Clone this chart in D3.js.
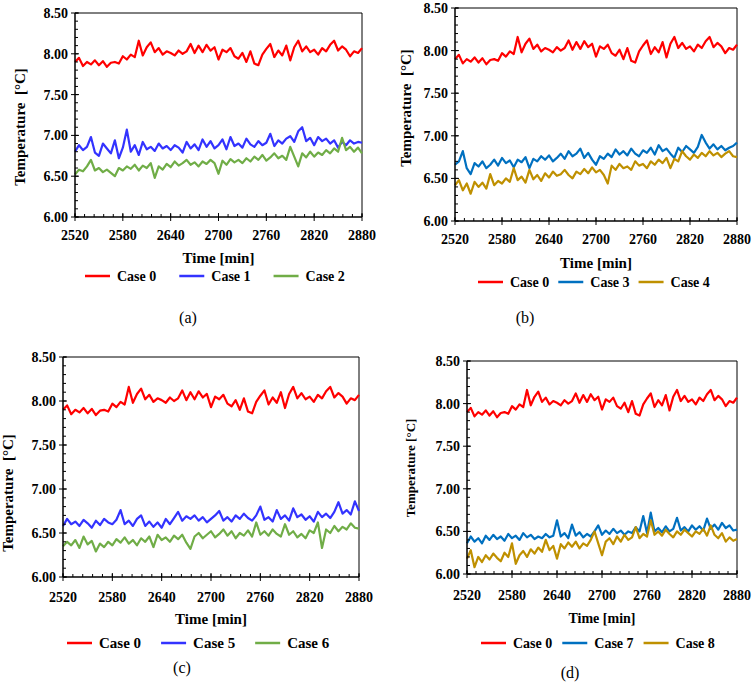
<!DOCTYPE html>
<html>
<head>
<meta charset="utf-8">
<script src="https://cdn.jsdelivr.net/npm/d3@7"></script>
<style>
  body { margin: 0; background: #fff; }
  svg text { font-family: "Liberation Serif", Tinos, "Times New Roman", "DejaVu Serif", serif; }
</style>
</head>
<body>
<svg id="chart" width="756" height="686"></svg>
<script>
// sample times (every 5 min)
const times = d3.range(2520, 2881, 5)

// temperatures, one value per sample time
const case0 = [7.90,7.95,7.85,7.90,7.87,7.92,7.86,7.91,7.84,7.89,7.90,7.88,7.97,7.93,7.99,7.96,8.16,7.98,8.08,8.14,8.02,8.07,7.99,8.03,8.01,7.98,8.04,8.00,8.03,8.12,8.01,8.10,8.02,8.11,8.04,8.08,7.93,8.05,8.02,8.07,7.97,7.94,8.01,7.90,8.03,7.88,7.86,7.99,8.06,8.12,7.96,8.04,7.98,8.10,7.92,8.08,8.16,8.03,8.09,8.02,8.05,7.99,8.07,8.03,8.11,8.16,8.04,8.09,8.05,7.97,8.03,8.01,8.07]
const case1 = [6.80,6.88,6.82,6.86,6.98,6.79,6.75,6.90,6.84,6.78,6.94,6.72,6.85,7.07,6.80,6.88,6.76,6.92,6.83,6.86,6.81,6.90,6.84,6.87,6.82,6.88,6.85,6.79,6.92,6.84,6.89,6.82,6.95,6.86,6.93,6.84,6.88,6.95,6.83,6.98,6.87,6.90,6.85,6.96,6.89,6.86,6.93,6.88,6.91,7.02,6.87,6.94,6.90,6.96,6.99,6.92,7.05,7.10,6.93,6.97,6.88,6.98,6.93,6.96,6.90,6.94,6.85,6.92,6.88,6.94,6.90,6.92,6.91]
const case2 = [6.52,6.58,6.56,6.62,6.70,6.57,6.60,6.55,6.58,6.54,6.50,6.60,6.57,6.62,6.59,6.64,6.57,6.63,6.60,6.66,6.48,6.62,6.58,6.65,6.61,6.68,6.63,6.66,6.70,6.64,6.67,6.62,6.68,6.65,6.70,6.66,6.53,6.69,6.64,6.71,6.67,6.70,6.66,6.72,6.68,6.74,6.70,6.76,6.69,6.73,6.78,6.72,6.75,6.70,6.86,6.74,6.62,6.78,6.73,6.80,6.74,6.79,6.76,6.82,6.78,6.84,6.80,6.97,6.82,6.86,6.80,6.85,6.78]
const case3 = [6.66,6.70,6.82,6.62,6.55,6.68,6.64,6.70,6.62,6.66,6.72,6.65,6.74,6.68,6.71,6.63,6.72,6.69,6.75,6.62,6.73,6.70,6.76,6.72,6.77,6.70,6.74,6.79,6.73,6.82,6.76,6.79,6.85,6.74,6.80,6.72,6.66,6.76,6.73,6.79,6.75,6.84,6.78,6.82,6.77,6.85,6.79,6.76,6.83,6.80,6.86,6.78,6.89,6.82,6.85,6.79,6.74,6.86,6.81,6.88,6.84,6.80,6.87,7.01,6.92,6.85,6.90,6.84,6.88,6.83,6.86,6.88,6.92]
const case4 = [6.42,6.48,6.36,6.44,6.32,6.46,6.40,6.45,6.38,6.55,6.42,6.47,6.44,6.50,6.46,6.62,6.48,6.52,6.45,6.60,6.49,6.54,6.47,6.56,6.51,6.58,6.53,6.55,6.60,6.54,6.50,6.58,6.55,6.61,6.56,6.63,6.57,6.60,6.54,6.44,6.65,6.60,6.67,6.62,6.64,6.60,6.70,6.65,6.67,6.62,6.70,6.66,6.72,6.68,6.74,6.62,6.73,6.70,6.82,6.76,6.72,6.78,6.74,6.80,6.76,6.82,6.77,6.80,6.75,6.79,6.82,6.76,6.75]
const case5 = [6.58,6.66,6.60,6.63,6.58,6.65,6.61,6.56,6.64,6.59,6.66,6.62,6.60,6.65,6.76,6.60,6.64,6.58,6.66,6.70,6.58,6.63,6.57,6.62,6.56,6.66,6.60,6.67,6.74,6.64,6.69,6.66,6.70,6.64,6.68,6.62,6.66,6.70,6.75,6.64,6.68,6.63,6.70,6.66,6.72,6.67,6.64,6.70,6.80,6.65,6.68,6.63,6.76,6.66,6.70,6.64,6.78,6.68,6.71,6.65,6.69,6.63,6.74,6.68,6.72,6.67,6.74,6.85,6.72,6.76,6.71,6.86,6.75]
const case6 = [6.35,6.40,6.36,6.42,6.33,6.46,6.37,6.41,6.29,6.38,6.34,6.40,6.36,6.43,6.39,6.45,6.38,6.42,6.36,6.44,6.40,6.46,6.34,6.48,6.42,6.45,6.40,6.47,6.43,6.48,6.39,6.32,6.46,6.50,6.44,6.48,6.52,6.45,6.49,6.54,6.47,6.52,6.44,6.50,6.47,6.53,6.46,6.62,6.48,6.52,6.47,6.54,6.49,6.46,6.60,6.48,6.52,6.45,6.49,6.44,6.53,6.50,6.62,6.33,6.54,6.50,6.58,6.52,6.57,6.54,6.61,6.56,6.55]
const case7 = [6.36,6.44,6.38,6.42,6.36,6.45,6.40,6.46,6.41,6.44,6.39,6.47,6.42,6.45,6.40,6.48,6.43,6.46,6.41,6.44,6.42,6.47,6.43,6.45,6.63,6.44,6.48,6.42,6.58,6.45,6.49,6.43,6.47,6.44,6.50,6.57,6.46,6.51,6.47,6.53,6.48,6.51,6.46,6.50,6.48,6.55,6.50,6.68,6.48,6.72,6.50,6.54,6.49,6.56,6.50,6.53,6.66,6.51,6.55,6.50,6.57,6.52,6.56,6.51,6.65,6.53,6.58,6.52,6.60,6.54,6.57,6.51,6.52]
const case8 = [6.18,6.28,6.08,6.20,6.14,6.22,6.17,6.24,6.19,6.15,6.25,6.20,6.36,6.12,6.22,6.27,6.20,6.29,6.24,6.31,6.26,6.40,6.28,6.33,6.18,6.35,6.30,6.37,6.32,6.38,6.30,6.36,6.33,6.40,6.50,6.36,6.22,6.38,6.42,6.35,6.44,6.38,6.46,6.40,6.43,6.55,6.42,6.47,6.44,6.63,6.46,6.50,6.45,6.52,6.47,6.43,6.50,6.46,6.52,6.48,6.44,6.50,6.47,6.53,6.45,6.57,6.46,6.42,6.48,6.38,6.43,6.39,6.41]

const caseNames = ["Case 0", "Case 1", "Case 2", "Case 3", "Case 4", "Case 5", "Case 6", "Case 7", "Case 8"]
const caseValues = [case0, case1, case2, case3, case4, case5, case6, case7, case8]

// which cases go in which panel
const panelCases = [["Case 0", "Case 1", "Case 2"], ["Case 0", "Case 3", "Case 4"],
                    ["Case 0", "Case 5", "Case 6"], ["Case 0", "Case 7", "Case 8"]]
const panelCaptions = ["(a)", "(b)", "(c)", "(d)"]

const xTicks = [2520, 2580, 2640, 2700, 2760, 2820, 2880]
const yTicks = [6.0, 6.5, 7.0, 7.5, 8.0, 8.5]

const colors = {
  "Case 0": "#ff0000", "Case 1": "#3333ff", "Case 2": "#70ad47",
  "Case 3": "#0070c0", "Case 4": "#bf9000", "Case 5": "#3333ff",
  "Case 6": "#70ad47", "Case 7": "#0070c0", "Case 8": "#bf9000"
}

// panel placement on the page
const layouts = [
  {left: 75, right: 362, top: 13, bottom: 217, tickFont: 14, tickY: 240, titleY: 263, titleFont: 15,
   legendY: 276, legendX: 85, legendGap: 23, legendFont: 14, capX: 188, capY: 323,
   yLabX: 20, yLabY: 127, yLabFont: 15, yLab: "Temperature  [°C]"},
  {left: 455, right: 737, top: 8, bottom: 221, tickFont: 14, tickY: 244, titleY: 268, titleFont: 15,
   legendY: 282, legendX: 478, legendGap: 9, legendFont: 14, capX: 525, capY: 323,
   yLabX: 406, yLabY: 108, yLabFont: 15, yLab: "Temperature  [°C]"},
  {left: 63, right: 359, top: 357, bottom: 577, tickFont: 14, tickY: 602, titleY: 624, titleFont: 15,
   legendY: 643, legendX: 67, legendGap: 20, legendFont: 15, capX: 182, capY: 673,
   yLabX: 8, yLabY: 493, yLabFont: 15, yLab: "Temperature  [°C]"},
  {left: 467, right: 737, top: 361, bottom: 574, tickFont: 14, tickY: 600, titleY: 623, titleFont: 14,
   legendY: 643, legendX: 481, legendGap: 10, legendFont: 14, capX: 570, capY: 678,
   yLabX: 410, yLabY: 468, yLabFont: 13, yLab: "Temperature [°C]"}
]

const serif = "'Liberation Serif', Tinos, 'Times New Roman', 'DejaVu Serif', serif"
const svg = d3.select("#chart").attr("font-family", serif)

const draw_panel = function(cases, caption, L) {

  var x = d3.scaleLinear().domain([2520, 2880]).range([L.left, L.right])
  var y = d3.scaleLinear().domain([6.0, 8.5]).range([L.bottom, L.top])

  var g = svg.append("g")

  // frame (top + right)
  g.append("path")
    .attr("d", `M${L.left},${L.top}H${L.right}V${L.bottom}`)
    .attr("fill", "none")
    .attr("stroke", "#000")
    .attr("stroke-width", 1)

  // data lines
  var line = d3.line()
    .x((d, i) => x(times[i]))
    .y(d => y(d))

  cases.forEach(name => {
    g.append("path")
      .datum(caseValues[caseNames.indexOf(name)])
      .attr("d", line)
      .attr("fill", "none")
      .attr("stroke", colors[name])
      .attr("stroke-width", 2.2)
      .attr("stroke-linejoin", "round")
  })

  // minor ticks
  g.selectAll(".xminor")
    .data(d3.range(2520, 2881, 12))
    .enter().append("line")
    .attr("x1", d => x(d)).attr("x2", d => x(d))
    .attr("y1", L.bottom).attr("y2", L.bottom - 3)
    .attr("stroke", "#000")
  g.selectAll(".yminor")
    .data(d3.range(60, 86).map(v => v / 10))
    .enter().append("line")
    .attr("x1", L.left).attr("x2", L.left + 3)
    .attr("y1", d => y(d)).attr("y2", d => y(d))
    .attr("stroke", "#000")

  // major ticks cross the axis
  g.selectAll(".xmajor")
    .data(xTicks)
    .enter().append("line")
    .attr("x1", d => x(d)).attr("x2", d => x(d))
    .attr("y1", L.bottom + 4).attr("y2", L.bottom - 4)
    .attr("stroke", "#000")
  g.selectAll(".ymajor")
    .data(yTicks)
    .enter().append("line")
    .attr("x1", L.left - 4).attr("x2", L.left + 4)
    .attr("y1", d => y(d)).attr("y2", d => y(d))
    .attr("stroke", "#000")

  // axis lines
  g.append("line")
    .attr("x1", L.left).attr("x2", L.right)
    .attr("y1", L.bottom).attr("y2", L.bottom)
    .attr("stroke", "#000").attr("stroke-width", 1.5)
  g.append("line")
    .attr("x1", L.left).attr("x2", L.left)
    .attr("y1", L.top).attr("y2", L.bottom)
    .attr("stroke", "#000").attr("stroke-width", 1.5)

  // tick labels
  g.selectAll(".xlab")
    .data(xTicks)
    .enter().append("text")
    .text(d => d)
    .attr("x", d => x(d))
    .attr("y", L.tickY)
    .attr("text-anchor", "middle")
    .attr("font-family", serif)
    .attr("font-weight", "bold")
    .attr("font-size", L.tickFont)
  g.selectAll(".ylab")
    .data(yTicks)
    .enter().append("text")
    .text(d3.format(".2f"))
    .attr("x", L.left - 7)
    .attr("y", d => y(d) + 5)
    .attr("text-anchor", "end")
    .attr("font-family", serif)
    .attr("font-weight", "bold")
    .attr("font-size", L.tickFont)

  // axis titles
  g.append("text")
    .text("Time [min]")
    .attr("x", (L.left + L.right) / 2)
    .attr("y", L.titleY)
    .attr("text-anchor", "middle")
    .attr("font-family", serif)
    .attr("font-weight", "bold")
    .attr("font-size", L.titleFont)
  g.append("text")
    .text(L.yLab)
    .style("white-space", "pre")
    .attr("transform", `translate(${L.yLabX + 5},${L.yLabY}) rotate(-90)`)
    .attr("text-anchor", "middle")
    .attr("font-family", serif)
    .attr("font-weight", "bold")
    .attr("font-size", L.yLabFont)

  // legend
  var lx = L.legendX
  cases.forEach(name => {
    g.append("line")
      .attr("x1", lx).attr("x2", lx + 25)
      .attr("y1", L.legendY).attr("y2", L.legendY)
      .attr("stroke", colors[name])
      .attr("stroke-width", 2.5)
    var t = g.append("text")
      .text(name)
      .attr("x", lx + 32)
      .attr("y", L.legendY + 5)
      .attr("font-family", serif)
      .attr("font-weight", "bold")
      .attr("font-size", L.legendFont)
    lx = lx + 32 + t.node().getComputedTextLength() + L.legendGap
  })

  // caption
  g.append("text")
    .text(caption)
    .attr("x", L.capX)
    .attr("y", L.capY)
    .attr("text-anchor", "middle")
    .attr("font-family", serif)
    .attr("font-size", 16)
}

panelCases.forEach((cases, i) => draw_panel(cases, panelCaptions[i], layouts[i]))
</script>
</body>
</html>
